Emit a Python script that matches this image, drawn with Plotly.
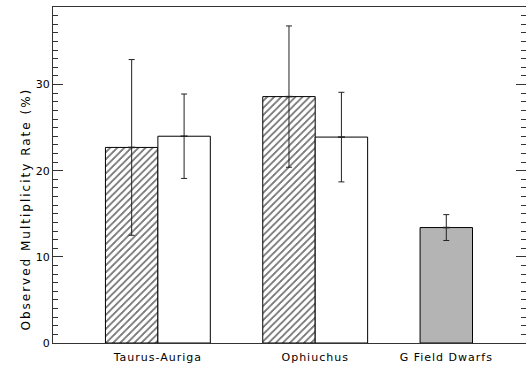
import plotly.graph_objects as go

# ---- data ----
categories = ["Taurus-Auriga", "Ophiuchus", "G Field Dwarfs"]
hatched_vals = [22.7, 28.6]          # Taurus-Auriga, Ophiuchus (hatched bars)
hatched_err = [10.2, 8.2]
open_vals = [24.0, 23.9]             # Taurus-Auriga, Ophiuchus (open bars)
open_err = [4.9, 5.2]
field_vals = [13.4]                  # G Field Dwarfs (grey bar)
field_err = [1.5]
y_ticks = [0, 10, 20, 30]

# ---- layout positions (axis units) ----
cat_pos = [2.0, 5.0, 7.5]
hatched_x = [cat_pos[0] - 0.5, cat_pos[1] - 0.5]
open_x = [cat_pos[0] + 0.5, cat_pos[1] + 0.5]
field_x = [cat_pos[2]]

FONT = "DejaVu Sans"
INK = "#000000"

fig = go.Figure()

def bar(x, y, err, fill, pattern=None):
    fig.add_trace(go.Bar(
        x=x, y=y, width=1.0,
        marker=dict(color=fill, line=dict(color=INK, width=1),
                    pattern=pattern),
        error_y=dict(type="data", array=err, visible=True,
                     color="#222222", thickness=1, width=3),
        showlegend=False,
    ))
    fig.add_trace(go.Scatter(
        x=x, y=y, mode="markers",
        marker=dict(symbol="line-ew", size=5,
                    line=dict(color="#222222", width=1.5)),
        showlegend=False, hoverinfo="skip",
    ))

bar(hatched_x, hatched_vals, hatched_err, "white",
    dict(shape="/", fgcolor="#000000", bgcolor="white", size=5, solidity=0.3))
bar(open_x, open_vals, open_err, "white")
bar(field_x, field_vals, field_err, "#b4b4b4")

fig.update_layout(
    width=526, height=370,
    margin=dict(l=53, r=0, t=7, b=27),
    paper_bgcolor="white", plot_bgcolor="white",
    barmode="overlay",
    font=dict(family=FONT, size=11, color=INK),
    xaxis=dict(range=[0, 9.02], tickvals=cat_pos, ticktext=categories,
               showgrid=False, zeroline=False, showline=True, mirror=True,
               linecolor="#333333", linewidth=1, ticks="",
               ticklabelstandoff=4,
               tickfont=dict(family=FONT, size=11, color=INK)),
    yaxis=dict(range=[0, 39], tickvals=y_ticks, showgrid=False,
               zeroline=False, showline=True, linecolor="#333333",
               linewidth=1, ticks="inside", ticklen=10, tickcolor="#333333",
               minor=dict(dtick=1, ticks="inside", ticklen=5,
                          tickcolor="#333333", showgrid=False),
               tickfont=dict(family=FONT, size=11, color=INK)),
    yaxis2=dict(range=[0, 39], overlaying="y", side="right", anchor="x",
                tickvals=y_ticks, showticklabels=False, showgrid=False,
                zeroline=False, showline=False, ticks="inside", ticklen=10,
                tickcolor="#333333",
                minor=dict(dtick=1, ticks="inside", ticklen=5,
                           tickcolor="#333333", showgrid=False)),
    annotations=[dict(
        text="Observed Multiplicity Rate (%)", textangle=-90,
        xref="paper", yref="paper", x=-0.058, y=0.5 - (209 - 175) / 336,
        xanchor="center", yanchor="middle", showarrow=False,
        font=dict(family=FONT, size=12, color=INK))],
)
# dummy trace to activate right-hand tick axis
fig.add_trace(go.Scatter(x=[None], y=[None], yaxis="y2", showlegend=False))

post = (
    "document.body.style.margin='0px';"
    "document.body.style.padding='0px';"
    "document.querySelectorAll('.xtick text').forEach(function(t){"
    "t.setAttribute('letter-spacing','1px');});"
    "document.querySelectorAll('.annotation-text').forEach(function(t){"
    "t.setAttribute('letter-spacing','2px');});"
    "document.querySelectorAll('pattern path').forEach(function(p){"
    "p.setAttribute('shape-rendering','crispEdges');});"
)
fig.write_html("out.html", post_script=post,
               config={"displayModeBar": False})
